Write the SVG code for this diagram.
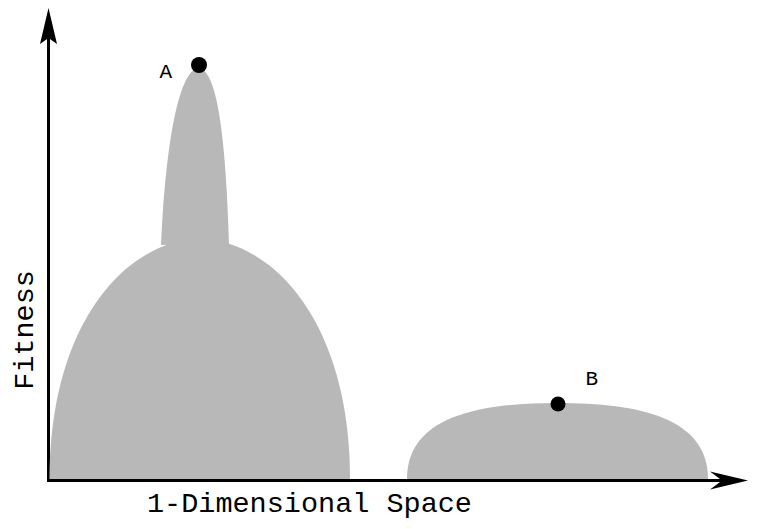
<svg xmlns="http://www.w3.org/2000/svg" width="757" height="529" viewBox="0 0 757 529">
<style>
.hill{fill:#b8b8b8;stroke:none}
.axis{stroke:#000;stroke-width:3;fill:none}
.head{fill:#000}
.dot{fill:#000}
text{font-family:"Liberation Mono","Courier New",monospace;fill:#000}
.lbl{font-size:21px}
.ax{font-size:28.5px}
</style>
<g id="connectors">
<line class="axis" x1="48.5" y1="481" x2="48.5" y2="36"/>
<path class="head" d="M48.5,8 L57,44 L48.5,38 L40,44 Z"/>
<line class="axis" x1="47" y1="480.5" x2="722" y2="480.5"/>
<path class="head" d="M748,480.5 L710,489.5 L722,480.5 L710,471.5 Z"/>
</g>
<g id="hillA">
<path class="hill" d="M49.5,479 C49.5,330 120,243 199.5,238 C280,243 350,330 350,479 Z"/>
<path class="hill" d="M161,245 C165,150 178,70 198.5,68 C219,70 226,150 229,245 Z"/>
</g>
<g id="hillB">
<path class="hill" d="M407,479 C407,418 475,403 557,403 C640,403 708,418 708,479 Z"/>
</g>
<g id="pointA">
<circle class="dot" cx="199" cy="65" r="8"/>
<text class="lbl" x="159.5" y="78">A</text>
</g>
<g id="pointB">
<circle class="dot" cx="558" cy="404" r="7.5"/>
<text class="lbl" x="585.5" y="385">B</text>
</g>
<g id="labels">
<text class="ax" x="147" y="512">1-Dimensional Space</text>
<text class="ax" text-anchor="middle" transform="translate(33,330) rotate(-90)">Fitness</text>
</g>
</svg>
